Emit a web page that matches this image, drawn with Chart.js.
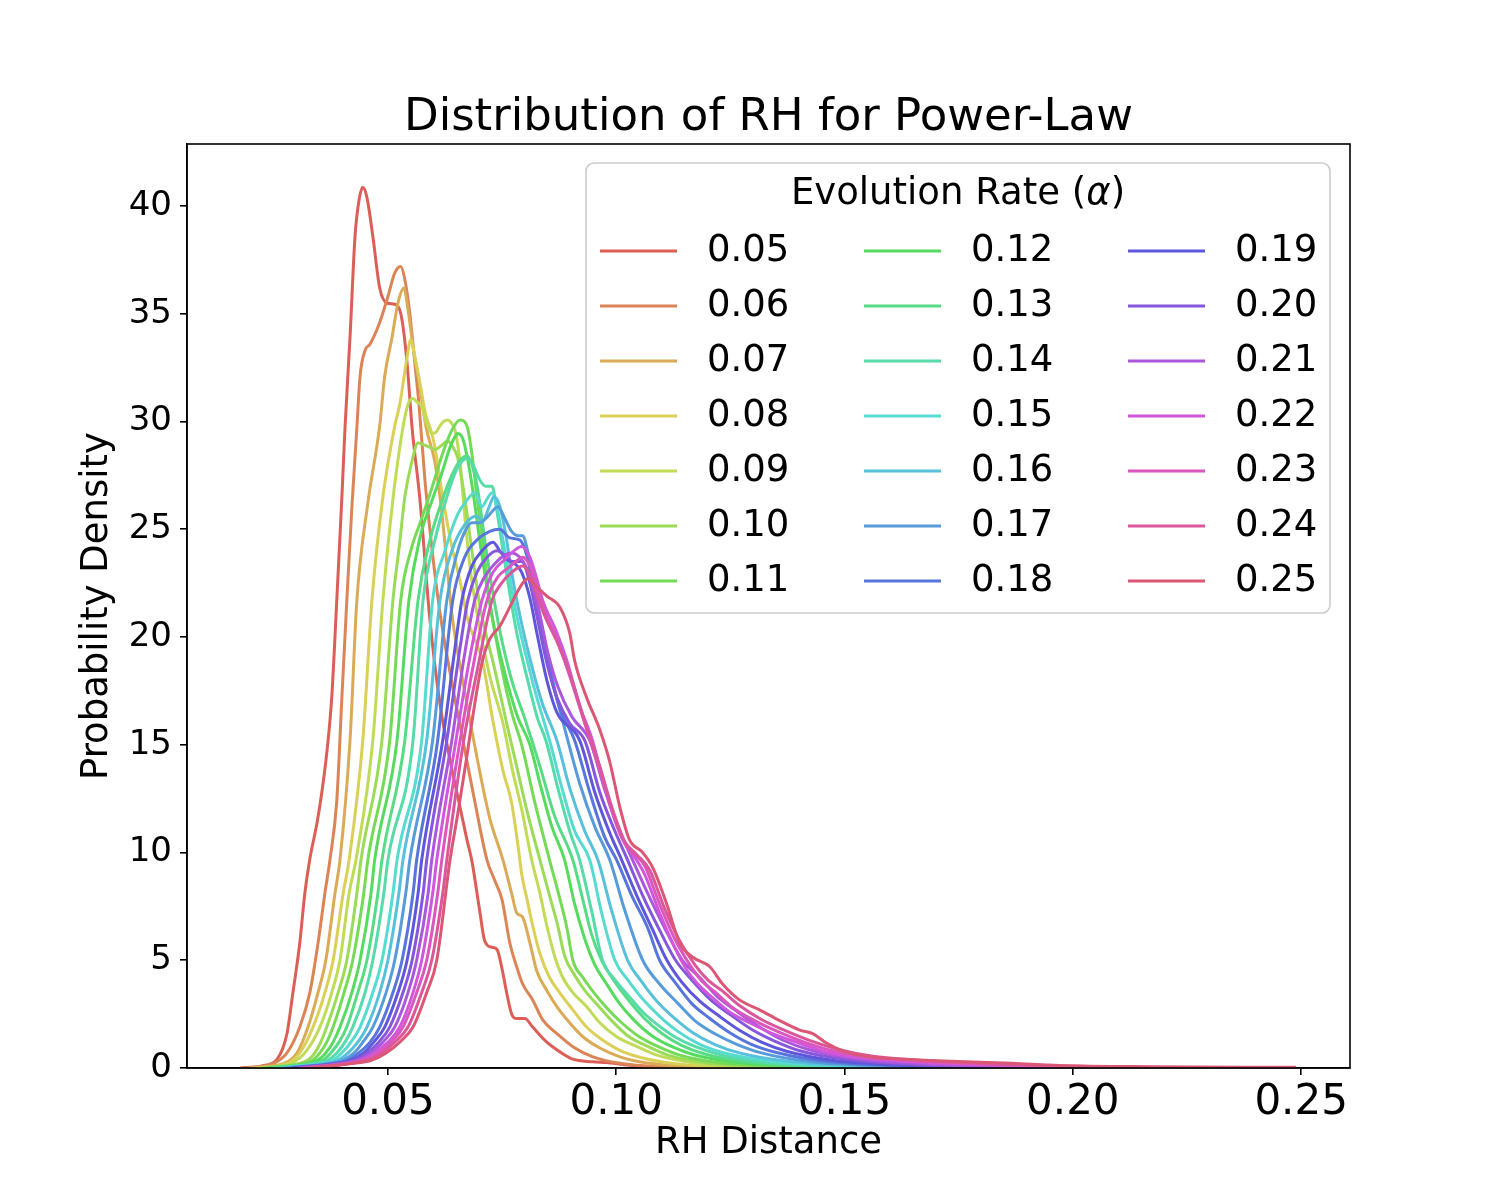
<!DOCTYPE html>
<html>
<head>
<meta charset="utf-8">
<script src="https://cdn.jsdelivr.net/npm/chart.js@4/dist/chart.umd.min.js"></script>
<style>
  html, body { margin: 0; padding: 0; background: #fff; }
  #wrap { width: 1500px; height: 1200px; }
</style>
</head>
<body>
<div id="wrap"><canvas id="rhChart" width="1500" height="1200"></canvas></div>
<script>
// Evolution rates (legend labels)
const alphaLabels = ['0.05', '0.06', '0.07', '0.08', '0.09', '0.10', '0.11', '0.12', '0.13', '0.14', '0.15',
  '0.16', '0.17', '0.18', '0.19', '0.20', '0.21', '0.22', '0.23', '0.24', '0.25'];

// density curves, [RH distance, density]
const curve005 = [[0.0176,0],[0.0224,0.1],[0.0257,0.4],[0.0279,1.6],[0.0292,3.5],[0.0307,5.8],[0.0318,8.1],[0.0329,9.7],[0.0345,11.4],[0.0356,12.9],[0.0367,14.8],[0.0377,17.2],[0.0388,21.7],[0.0399,26.4],[0.0406,29.7],[0.0417,33.9],[0.0428,38.6],[0.0437,40.3],[0.0445,40.87],[0.0454,40.4],[0.0467,38.6],[0.0482,36.2],[0.0498,35.5],[0.0520,35.4],[0.0531,34.7],[0.0542,32.7],[0.0553,29.7],[0.0570,26.4],[0.0592,20.8],[0.0614,16.9],[0.0636,14.3],[0.0658,12.1],[0.0673,10.6],[0.0684,9.6],[0.0701,7.3],[0.0712,5.9],[0.0728,5.6],[0.0739,5.5],[0.0749,4.7],[0.0760,3.5],[0.0771,2.5],[0.0782,2.3],[0.0800,2.3],[0.0817,1.9],[0.0848,1.2],[0.0876,0.76],[0.0905,0.41],[0.0949,0.29],[0.0979,0.25],[0.1023,0.14],[0.1095,0.03],[0.1183,0]];
const curve006 = [[0.0187,0],[0.0248,0.2],[0.0279,0.7],[0.0307,1.9],[0.0329,3.5],[0.0347,5.8],[0.0362,8.1],[0.0373,9.65],[0.0388,12.4],[0.0399,17.1],[0.0410,21.7],[0.0421,26.0],[0.0432,29.7],[0.0439,32.1],[0.0450,33.3],[0.0461,33.6],[0.0482,34.6],[0.0500,35.8],[0.0515,36.9],[0.0528,37.2],[0.0537,36.6],[0.0548,35.0],[0.0559,32.7],[0.0568,30.8],[0.0581,27.3],[0.0596,24.2],[0.0609,21.9],[0.0620,20.3],[0.0647,17.1],[0.0668,14.8],[0.0690,12.4],[0.0717,9.65],[0.0734,8.7],[0.0750,7.8],[0.0767,5.8],[0.0782,4.7],[0.0795,3.9],[0.0817,3.16],[0.0839,2.23],[0.0870,1.6],[0.0905,0.99],[0.0949,0.52],[0.1008,0.22],[0.1139,0]];
const curve007 = [[0.0198,0],[0.0270,0.2],[0.0301,0.7],[0.0325,1.9],[0.0347,3.5],[0.0364,5.0],[0.0384,8.1],[0.0395,9.65],[0.0417,15.2],[0.0432,21.7],[0.0456,26.2],[0.0482,29.8],[0.0493,32.1],[0.0509,33.9],[0.0522,35.5],[0.0535,36.2],[0.0544,35.2],[0.0555,33.5],[0.0570,31.6],[0.0583,29.8],[0.0603,28.1],[0.0618,25.8],[0.0629,23.4],[0.0640,21.1],[0.0668,17.5],[0.0697,14.2],[0.0723,11.6],[0.0752,9.65],[0.0771,8.1],[0.0782,7.2],[0.0795,7.0],[0.0811,5.8],[0.0826,4.5],[0.0848,3.6],[0.0870,2.85],[0.0898,2.1],[0.0927,1.45],[0.0964,0.93],[0.1008,0.52],[0.1051,0.29],[0.1139,0.08],[0.1226,0]];
const curve008 = [[0.0209,0],[0.0279,0.2],[0.0307,0.7],[0.0336,1.9],[0.0362,3.5],[0.0380,5.0],[0.0402,8.1],[0.0415,9.65],[0.0445,15.2],[0.0465,21.7],[0.0489,26.5],[0.0515,29.8],[0.0526,30.8],[0.0542,33.0],[0.0550,33.8],[0.0559,33.0],[0.0570,31.8],[0.0583,30.3],[0.0594,29.6],[0.0603,28.8],[0.0620,26.5],[0.0640,24.2],[0.0658,22.6],[0.0675,20.8],[0.0708,18.8],[0.0730,16.1],[0.0752,13.8],[0.0771,12.3],[0.0785,10.3],[0.0793,9.0],[0.0806,7.7],[0.0817,6.6],[0.0833,5.3],[0.0854,4.2],[0.0876,3.5],[0.0905,2.7],[0.0935,1.9],[0.0970,1.3],[0.1014,0.76],[0.1067,0.42],[0.1139,0.18],[0.1226,0.05],[0.1314,0]];
const curve009 = [[0.0216,0],[0.0286,0.2],[0.0318,0.7],[0.0351,1.9],[0.0377,3.5],[0.0395,5.0],[0.0415,8.1],[0.0430,9.65],[0.0467,15.2],[0.0489,21.7],[0.0511,26.4],[0.0526,28.8],[0.0537,30.2],[0.0546,30.9],[0.0555,31.07],[0.0564,30.9],[0.0574,30.7],[0.0585,29.9],[0.0596,29.45],[0.0605,29.5],[0.0614,29.8],[0.0622,30.0],[0.0631,30.07],[0.0640,29.9],[0.0647,29.6],[0.0658,28.1],[0.0668,25.7],[0.0679,23.4],[0.0695,21.1],[0.0723,18.2],[0.0752,16.0],[0.0773,13.8],[0.0793,12.0],[0.0815,9.65],[0.0833,8.1],[0.0848,6.6],[0.0865,5.2],[0.0883,4.2],[0.0905,3.5],[0.0935,2.85],[0.0964,2.1],[0.1001,1.45],[0.1045,1.0],[0.1089,0.6],[0.1183,0.2],[0.1314,0.07],[0.1445,0]];
const curve010 = [[0.0224,0],[0.0303,0.2],[0.0325,0.37],[0.0340,0.7],[0.0353,1.2],[0.0366,1.9],[0.0391,3.5],[0.0410,5.0],[0.0432,8.1],[0.0441,9.65],[0.0487,15.2],[0.0511,21.7],[0.0526,24.4],[0.0537,26.5],[0.0552,28.1],[0.0566,29.0],[0.0581,28.9],[0.0592,28.8],[0.0603,28.7],[0.0618,28.9],[0.0631,29.1],[0.0640,28.9],[0.0653,28.3],[0.0668,26.5],[0.0684,24.0],[0.0701,21.5],[0.0734,18.5],[0.0760,16.0],[0.0782,14.0],[0.0806,11.8],[0.0833,9.65],[0.0854,8.0],[0.0872,6.6],[0.0887,5.2],[0.0909,4.3],[0.0931,3.6],[0.0960,2.9],[0.0990,2.2],[0.1025,1.5],[0.1069,1.0],[0.1113,0.6],[0.1205,0.22],[0.1336,0.07],[0.1489,0]];
const curve011 = [[0.0231,0],[0.0314,0.2],[0.0336,0.37],[0.0351,0.7],[0.0366,1.2],[0.0380,1.9],[0.0404,3.5],[0.0423,5.0],[0.0447,8.1],[0.0456,9.65],[0.0504,15.2],[0.0528,21.7],[0.0550,24.0],[0.0574,25.5],[0.0596,26.9],[0.0618,28.4],[0.0640,29.6],[0.0658,30.07],[0.0673,29.8],[0.0684,28.5],[0.0695,26.5],[0.0706,24.7],[0.0723,21.7],[0.0745,19.0],[0.0771,16.5],[0.0793,15.0],[0.0822,12.3],[0.0854,9.65],[0.0876,7.9],[0.0892,6.5],[0.0905,5.0],[0.0927,4.2],[0.0951,3.5],[0.0979,2.8],[0.1012,2.1],[0.1047,1.5],[0.1091,1.0],[0.1139,0.6],[0.1226,0.25],[0.1358,0.08],[0.1533,0]];
const curve012 = [[0.0237,0],[0.0323,0.2],[0.0347,0.37],[0.0364,0.7],[0.0380,1.2],[0.0395,1.9],[0.0421,3.5],[0.0439,5.0],[0.0463,8.1],[0.0471,9.65],[0.0520,15.2],[0.0546,21.7],[0.0570,24.6],[0.0596,26.3],[0.0618,27.6],[0.0636,28.8],[0.0647,29.3],[0.0653,29.45],[0.0664,29.2],[0.0675,28.2],[0.0688,26.5],[0.0701,24.5],[0.0717,22.3],[0.0734,20.3],[0.0760,18.0],[0.0784,16.3],[0.0811,15.0],[0.0833,13.2],[0.0859,11.2],[0.0887,9.65],[0.0909,7.6],[0.0931,6.0],[0.0953,4.8],[0.0979,3.9],[0.1007,3.0],[0.1040,2.2],[0.1078,1.5],[0.1121,1.0],[0.1172,0.6],[0.1270,0.25],[0.1402,0.08],[0.1576,0]];
const curve013 = [[0.0246,0],[0.0332,0.2],[0.0358,0.37],[0.0375,0.7],[0.0393,1.2],[0.0410,1.9],[0.0434,3.5],[0.0454,5.0],[0.0478,8.1],[0.0487,9.65],[0.0537,15.2],[0.0566,21.7],[0.0592,24.5],[0.0618,26.3],[0.0640,27.5],[0.0658,28.2],[0.0673,28.4],[0.0684,28.0],[0.0697,26.8],[0.0712,24.5],[0.0728,22.3],[0.0745,20.3],[0.0771,18.0],[0.0800,16.2],[0.0833,14.0],[0.0865,11.7],[0.0905,9.65],[0.0927,7.8],[0.0946,6.2],[0.0968,5.0],[0.0997,4.0],[0.1029,3.1],[0.1062,2.3],[0.1100,1.6],[0.1143,1.05],[0.1194,0.65],[0.1292,0.27],[0.1423,0.09],[0.1620,0]];
const curve014 = [[0.0253,0],[0.0340,0.2],[0.0369,0.37],[0.0388,0.7],[0.0406,1.2],[0.0423,1.9],[0.0450,3.5],[0.0467,5.0],[0.0491,8.1],[0.0500,9.65],[0.0555,15.2],[0.0577,21.7],[0.0603,24.5],[0.0629,26.5],[0.0651,27.8],[0.0664,28.2],[0.0673,28.3],[0.0686,28.0],[0.0701,27.3],[0.0714,27.0],[0.0728,27.0],[0.0739,25.8],[0.0752,24.0],[0.0767,22.0],[0.0784,20.0],[0.0806,18.0],[0.0828,16.2],[0.0846,15.2],[0.0872,13.0],[0.0898,11.0],[0.0920,9.65],[0.0946,7.3],[0.0970,5.0],[0.0997,4.1],[0.1025,3.4],[0.1058,2.6],[0.1091,2.0],[0.1128,1.45],[0.1172,1.0],[0.1226,0.63],[0.1325,0.27],[0.1467,0.09],[0.1664,0]];
const curve015 = [[0.0264,0],[0.0351,0.2],[0.0380,0.37],[0.0399,0.7],[0.0419,1.2],[0.0439,1.9],[0.0467,3.5],[0.0487,5.0],[0.0511,8.1],[0.0520,9.65],[0.0574,15.2],[0.0598,21.7],[0.0625,24.0],[0.0653,25.7],[0.0675,26.4],[0.0690,26.7],[0.0706,26.05],[0.0717,26.4],[0.0728,26.7],[0.0739,26.0],[0.0752,24.5],[0.0767,22.7],[0.0784,20.8],[0.0804,19.0],[0.0826,17.2],[0.0854,15.2],[0.0881,13.0],[0.0909,11.0],[0.0942,9.65],[0.0968,7.2],[0.0997,5.0],[0.1025,4.1],[0.1058,3.2],[0.1095,2.4],[0.1135,1.7],[0.1183,1.1],[0.1237,0.7],[0.1347,0.3],[0.1489,0.1],[0.1708,0]];
const curve016 = [[0.0270,0],[0.0360,0.2],[0.0391,0.37],[0.0413,0.7],[0.0434,1.2],[0.0454,1.9],[0.0482,3.5],[0.0500,5.0],[0.0524,8.1],[0.0533,9.65],[0.0585,15.2],[0.0614,21.7],[0.0640,24.0],[0.0668,25.2],[0.0693,25.6],[0.0708,25.4],[0.0721,26.0],[0.0732,26.5],[0.0743,26.2],[0.0756,25.0],[0.0771,23.0],[0.0789,21.0],[0.0811,19.0],[0.0837,17.0],[0.0870,15.2],[0.0898,13.0],[0.0931,11.0],[0.0960,9.65],[0.0990,7.3],[0.1025,5.0],[0.1056,4.0],[0.1089,3.1],[0.1128,2.3],[0.1167,1.65],[0.1215,1.1],[0.1270,0.7],[0.1380,0.3],[0.1533,0.1],[0.1751,0]];
const curve017 = [[0.0277,0],[0.0369,0.2],[0.0402,0.37],[0.0426,0.7],[0.0445,1.2],[0.0467,1.9],[0.0496,3.5],[0.0515,5.0],[0.0539,8.1],[0.0548,9.65],[0.0598,15.2],[0.0629,21.7],[0.0653,24.0],[0.0671,25.0],[0.0684,25.3],[0.0701,25.3],[0.0719,25.6],[0.0741,26.05],[0.0756,25.5],[0.0771,24.9],[0.0785,24.7],[0.0795,24.7],[0.0806,24.0],[0.0817,22.8],[0.0833,21.0],[0.0850,19.0],[0.0872,17.0],[0.0894,15.2],[0.0920,13.2],[0.0953,11.2],[0.0986,9.65],[0.1019,7.3],[0.1058,5.0],[0.1095,3.9],[0.1135,3.0],[0.1172,2.2],[0.1215,1.6],[0.1264,1.1],[0.1318,0.7],[0.1423,0.3],[0.1576,0.1],[0.1795,0]];
const curve018 = [[0.0286,0],[0.0377,0.2],[0.0413,0.37],[0.0436,0.7],[0.0461,1.2],[0.0482,1.9],[0.0511,3.5],[0.0531,5.0],[0.0555,8.1],[0.0563,9.65],[0.0609,15.2],[0.0642,21.7],[0.0668,23.7],[0.0695,24.5],[0.0723,24.9],[0.0745,25.0],[0.0767,24.6],[0.0789,24.5],[0.0804,23.8],[0.0817,22.5],[0.0833,20.8],[0.0854,18.5],[0.0876,16.7],[0.0909,15.2],[0.0942,12.8],[0.0975,10.7],[0.1001,9.65],[0.1034,8.0],[0.1069,6.5],[0.1095,5.0],[0.1128,4.0],[0.1165,3.0],[0.1205,2.3],[0.1248,1.65],[0.1296,1.1],[0.1351,0.72],[0.1456,0.32],[0.1620,0.1],[0.1839,0]];
const curve019 = [[0.0292,0],[0.0384,0.2],[0.0421,0.37],[0.0447,0.7],[0.0469,1.2],[0.0493,1.9],[0.0522,3.5],[0.0542,5.0],[0.0566,8.1],[0.0574,9.65],[0.0620,15.2],[0.0647,19.5],[0.0662,21.7],[0.0684,23.3],[0.0706,24.0],[0.0730,24.4],[0.0745,24.0],[0.0760,23.6],[0.0778,23.4],[0.0793,23.0],[0.0811,21.8],[0.0828,20.0],[0.0848,18.0],[0.0870,16.5],[0.0920,15.2],[0.0953,12.8],[0.0986,10.9],[0.1012,9.65],[0.1045,8.0],[0.1078,6.5],[0.1111,5.0],[0.1143,4.0],[0.1183,3.1],[0.1226,2.4],[0.1270,1.75],[0.1318,1.2],[0.1373,0.78],[0.1478,0.35],[0.1642,0.12],[0.1883,0]];
const curve020 = [[0.0299,0],[0.0391,0.2],[0.0428,0.37],[0.0454,0.7],[0.0480,1.2],[0.0504,1.9],[0.0533,3.5],[0.0553,5.0],[0.0577,8.1],[0.0585,9.65],[0.0629,15.2],[0.0658,19.5],[0.0675,21.7],[0.0695,23.0],[0.0717,23.7],[0.0739,24.0],[0.0756,23.8],[0.0773,23.5],[0.0793,23.5],[0.0811,22.5],[0.0828,20.8],[0.0848,18.8],[0.0870,17.2],[0.0898,16.0],[0.0931,15.2],[0.0964,12.8],[0.0997,11.0],[0.1025,9.65],[0.1058,8.0],[0.1095,6.4],[0.1130,5.0],[0.1165,4.1],[0.1205,3.2],[0.1248,2.5],[0.1296,1.8],[0.1347,1.25],[0.1402,0.8],[0.1511,0.38],[0.1686,0.13],[0.1927,0]];
const curve021 = [[0.0305,0],[0.0395,0.2],[0.0434,0.37],[0.0463,0.7],[0.0489,1.2],[0.0515,1.9],[0.0544,3.5],[0.0563,5.0],[0.0588,8.1],[0.0596,9.65],[0.0640,15.2],[0.0668,19.2],[0.0690,21.7],[0.0712,22.8],[0.0734,23.4],[0.0756,23.8],[0.0771,23.9],[0.0789,23.7],[0.0804,23.2],[0.0817,22.3],[0.0833,21.0],[0.0850,19.3],[0.0872,17.7],[0.0903,16.3],[0.0942,15.2],[0.0975,12.9],[0.1008,11.0],[0.1036,9.65],[0.1069,8.1],[0.1106,6.5],[0.1145,5.0],[0.1183,4.2],[0.1222,3.3],[0.1266,2.6],[0.1314,1.9],[0.1364,1.3],[0.1423,0.85],[0.1533,0.4],[0.1730,0.13],[0.1992,0]];
const curve022 = [[0.0312,0],[0.0402,0.2],[0.0443,0.37],[0.0471,0.7],[0.0500,1.2],[0.0526,1.9],[0.0555,3.5],[0.0574,5.0],[0.0598,8.1],[0.0607,9.65],[0.0649,15.2],[0.0679,19.0],[0.0706,21.7],[0.0730,23.0],[0.0756,23.6],[0.0776,24.0],[0.0793,24.2],[0.0811,23.7],[0.0822,23.0],[0.0839,21.7],[0.0870,20.2],[0.0892,18.9],[0.0920,16.8],[0.0948,15.2],[0.0975,13.0],[0.0997,11.5],[0.1019,10.4],[0.1040,9.8],[0.1062,9.0],[0.1095,7.2],[0.1128,5.6],[0.1156,4.5],[0.1183,3.8],[0.1209,3.3],[0.1248,2.6],[0.1292,2.1],[0.1342,1.6],[0.1402,1.15],[0.1461,0.74],[0.1526,0.5],[0.1620,0.33],[0.1752,0.18],[0.1927,0.06],[0.2102,0]];
const curve023 = [[0.0318,0],[0.0408,0.2],[0.0450,0.37],[0.0478,0.7],[0.0507,1.2],[0.0533,1.9],[0.0563,3.5],[0.0585,5.0],[0.0609,8.1],[0.0618,9.65],[0.0658,15.2],[0.0688,18.8],[0.0717,21.7],[0.0741,22.8],[0.0763,23.2],[0.0780,23.5],[0.0795,23.7],[0.0811,23.3],[0.0826,22.4],[0.0843,21.2],[0.0872,19.8],[0.0898,18.2],[0.0931,16.0],[0.0957,14.3],[0.0986,12.3],[0.1012,10.7],[0.1036,10.0],[0.1062,9.4],[0.1095,7.6],[0.1128,6.0],[0.1161,4.8],[0.1189,4.0],[0.1218,3.5],[0.1255,2.8],[0.1303,2.2],[0.1353,1.7],[0.1412,1.2],[0.1474,0.8],[0.1544,0.53],[0.1642,0.35],[0.1773,0.2],[0.1970,0.07],[0.2167,0]];
const curve024 = [[0.0325,0],[0.0413,0.2],[0.0456,0.37],[0.0487,0.7],[0.0515,1.2],[0.0544,1.9],[0.0574,3.5],[0.0596,5.0],[0.0620,8.1],[0.0629,9.65],[0.0666,15.2],[0.0697,18.6],[0.0728,21.7],[0.0749,22.5],[0.0771,23.0],[0.0795,23.3],[0.0811,22.9],[0.0826,22.0],[0.0843,21.0],[0.0872,19.7],[0.0903,18.0],[0.0935,15.8],[0.0964,14.0],[0.0992,12.0],[0.1019,10.5],[0.1045,9.9],[0.1073,9.2],[0.1106,7.4],[0.1139,5.9],[0.1172,4.8],[0.1200,4.1],[0.1231,3.6],[0.1270,2.9],[0.1318,2.25],[0.1369,1.75],[0.1428,1.25],[0.1489,0.85],[0.1559,0.56],[0.1664,0.36],[0.1817,0.2],[0.2036,0.07],[0.2277,0]];
const curve025 = [[0.0329,0],[0.0417,0.2],[0.0465,0.37],[0.0496,0.7],[0.0526,1.2],[0.0555,1.9],[0.0585,3.5],[0.0607,5.0],[0.0636,9.65],[0.0653,11.8],[0.0671,14.2],[0.0688,16.6],[0.0706,18.8],[0.0723,19.9],[0.0745,20.5],[0.0767,21.4],[0.0789,22.3],[0.0806,22.7],[0.0822,22.4],[0.0848,21.9],[0.0876,21.4],[0.0898,20.2],[0.0909,18.9],[0.0935,17.2],[0.0964,15.7],[0.0986,14.2],[0.1008,12.1],[0.1029,10.6],[0.1058,10.0],[0.1080,9.3],[0.1110,7.65],[0.1139,5.8],[0.1167,5.15],[0.1205,4.7],[0.1233,3.9],[0.1270,3.16],[0.1314,2.7],[0.1358,2.2],[0.1402,1.76],[0.1430,1.6],[0.1461,1.15],[0.1504,0.74],[0.1561,0.5],[0.1620,0.42],[0.1686,0.35],[0.1867,0.22],[0.1970,0.12],[0.2161,0.06],[0.2489,0.03]];

const curves = [curve005, curve006, curve007, curve008, curve009, curve010, curve011, curve012, curve013, curve014,
  curve015, curve016, curve017, curve018, curve019, curve020, curve021, curve022, curve023, curve024, curve025];

const xTicks = [0.05, 0.10, 0.15, 0.20, 0.25];
const yTicks = [0, 5, 10, 15, 20, 25, 30, 35, 40];

const FONT = "'DejaVu Sans', 'Liberation Sans', sans-serif";

// seaborn-style "hls" palette
function hlsColor(h, l, s) {
  const m2 = l <= 0.5 ? l * (1 + s) : l + s - l * s;
  const m1 = 2 * l - m2;
  const v = hue => {
    hue = ((hue % 1) + 1) % 1;
    if (hue < 1 / 6) return m1 + (m2 - m1) * hue * 6;
    if (hue < 0.5) return m2;
    if (hue < 2 / 3) return m1 + (m2 - m1) * (2 / 3 - hue) * 6;
    return m1;
  };
  const c = [v(h + 1 / 3), v(h), v(h - 1 / 3)].map(t => Math.round(t * 255));
  return `rgb(${c[0]}, ${c[1]}, ${c[2]})`;
}
const palette = alphaLabels.map((_, i) => hlsColor((i / alphaLabels.length + 0.01) % 1, 0.6, 0.65));

// top/right spines
const framePlugin = {
  id: 'frame',
  afterDatasetsDraw(chart) {
    const { ctx, chartArea: a } = chart;
    ctx.save();
    ctx.strokeStyle = '#000';
    ctx.lineWidth = 1.6;
    ctx.strokeRect(a.left, a.top, a.right - a.left, a.bottom - a.top);
    ctx.restore();
  }
};

// title, axis titles and the 3-column legend box
const textPlugin = {
  id: 'texts',
  afterDraw(chart) {
    const { ctx, chartArea: a } = chart;
    const cx = (a.left + a.right) / 2;
    ctx.save();
    ctx.fillStyle = '#000';
    ctx.textAlign = 'center';
    ctx.textBaseline = 'middle';
    ctx.font = `45px ${FONT}`;
    ctx.fillText('Distribution of RH for Power-Law', cx, 118);
    ctx.font = `37px ${FONT}`;
    ctx.fillText('RH Distance', cx, 1143);
    ctx.save();
    ctx.translate(97, (a.top + a.bottom) / 2);
    ctx.rotate(-Math.PI / 2);
    ctx.fillText('Probability Density', 0, 0);
    ctx.restore();

    // legend frame
    const bx = 586, by = 163, bw = 744, bh = 450, r = 8;
    ctx.beginPath();
    ctx.moveTo(bx + r, by);
    ctx.arcTo(bx + bw, by, bx + bw, by + bh, r);
    ctx.arcTo(bx + bw, by + bh, bx, by + bh, r);
    ctx.arcTo(bx, by + bh, bx, by, r);
    ctx.arcTo(bx, by, bx + bw, by, r);
    ctx.closePath();
    ctx.fillStyle = 'rgba(255,255,255,0.8)';
    ctx.fill();
    ctx.strokeStyle = '#cccccc';
    ctx.lineWidth = 1.6;
    ctx.stroke();

    // legend title with italic alpha
    const fs = 37;
    const partA = 'Evolution Rate (', partB = '\u03b1', partC = ')';
    ctx.font = `${fs}px ${FONT}`;
    const wA = ctx.measureText(partA).width, wC = ctx.measureText(partC).width;
    ctx.font = `italic ${fs}px ${FONT}`;
    const wB = ctx.measureText(partB).width;
    const tx = 958 - (wA + wB + wC) / 2;
    const ty = 194;
    ctx.fillStyle = '#000';
    ctx.textAlign = 'left';
    ctx.font = `${fs}px ${FONT}`;
    ctx.fillText(partA, tx, ty);
    ctx.font = `italic ${fs}px ${FONT}`;
    ctx.fillText(partB, tx + wA, ty);
    ctx.font = `${fs}px ${FONT}`;
    ctx.fillText(partC, tx + wA + wB, ty);

    // entries, column-major
    const colX = [600, 864, 1128];
    chart.data.datasets.forEach((ds, i) => {
      const col = Math.floor(i / 7), row = i % 7;
      const y = 251 + row * 55;
      ctx.strokeStyle = ds.borderColor;
      ctx.lineWidth = 3;
      ctx.beginPath();
      ctx.moveTo(colX[col], y);
      ctx.lineTo(colX[col] + 77, y);
      ctx.stroke();
      ctx.fillStyle = '#000';
      ctx.fillText(ds.label, colX[col] + 107, y);
    });
    ctx.restore();
  }
};

const ctx = document.getElementById('rhChart').getContext('2d');
new Chart(ctx, {
  type: 'line',
  data: {
    datasets: curves.map((pts, i) => ({
      label: alphaLabels[i],
      data: pts.map(([x, y]) => ({ x, y })),
      borderColor: palette[i],
      backgroundColor: palette[i],
      borderWidth: 3,
      pointRadius: 0,
      fill: false,
      cubicInterpolationMode: 'monotone',
      order: curves.length - i
    }))
  },
  options: {
    responsive: false,
    animation: false,
    layout: { padding: { left: 0, right: 150, top: 144, bottom: 0 } },
    plugins: {
      legend: { display: false },
      title: { display: false },
      tooltip: { enabled: false }
    },
    scales: {
      x: {
        type: 'linear',
        min: 0.006,
        max: 0.2607,
        afterFit: s => { s.height = 132; },
        afterBuildTicks: s => { s.ticks = xTicks.map(v => ({ value: v })); },
        ticks: {
          callback: v => v.toFixed(2),
          color: '#000',
          font: { family: FONT, size: 42 },
          padding: 3,
          maxRotation: 0,
          autoSkip: false
        },
        grid: { display: true, drawOnChartArea: false, drawTicks: true, tickLength: 7, color: '#000', lineWidth: 1.6 },
        border: { display: true, color: '#000', width: 1.6 }
      },
      y: {
        type: 'linear',
        min: 0,
        max: 42.88,
        afterFit: s => { s.width = 187; },
        afterBuildTicks: s => { s.ticks = yTicks.map(v => ({ value: v })); },
        ticks: {
          callback: v => String(v),
          color: '#000',
          font: { family: FONT, size: 34 },
          padding: 8,
          autoSkip: false
        },
        grid: { display: true, drawOnChartArea: false, drawTicks: true, tickLength: 7, color: '#000', lineWidth: 1.6 },
        border: { display: true, color: '#000', width: 1.6 }
      }
    }
  },
  plugins: [framePlugin, textPlugin]
});
</script>
</body>
</html>
